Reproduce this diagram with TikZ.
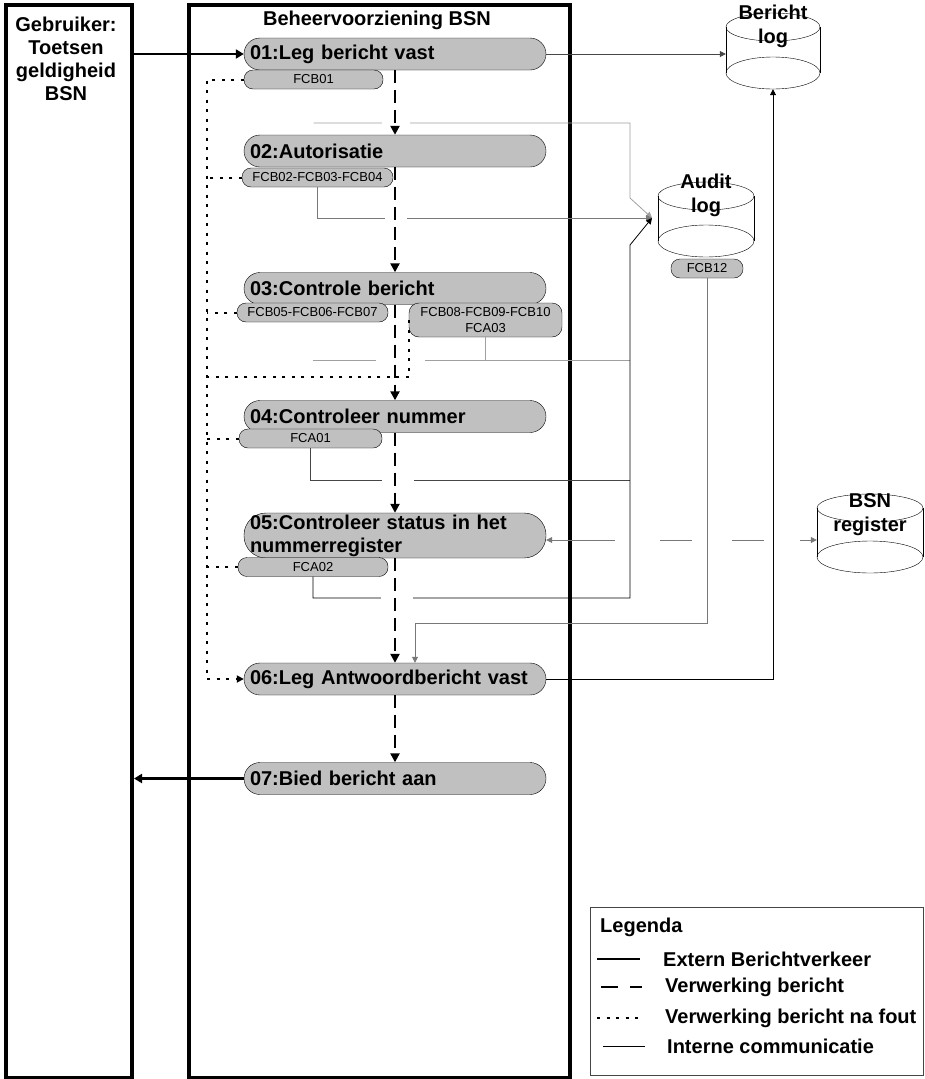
\documentclass[tikz,border=0pt]{standalone}
\usepackage{fontspec}
\setmainfont{Liberation Sans}
\usepackage{tikz}
\usetikzlibrary{arrows.meta,calc,positioning}
\definecolor{procgray}{RGB}{192,192,192}
\definecolor{lichtgrijs}{RGB}{160,160,160}
\definecolor{middengrijs}{RGB}{120,120,120}
\definecolor{donkergrijs}{RGB}{70,70,70}
\tikzset{
  lane/.style={draw,line width=4pt,anchor=north west,inner sep=0pt},
  titel/.style={font=\bfseries\fontsize{20}{23}\selectfont,inner sep=0pt},
  proc/.style={draw,fill=procgray,rounded corners=16pt,minimum height=32pt,text width=290pt,inner xsep=6pt,inner ysep=1pt,align=left,font=\bfseries\fontsize{20}{23}\selectfont},
  fc/.style={draw,fill=procgray,rounded corners=9pt,minimum height=19pt,inner sep=1pt,align=center,font=\fontsize{13}{16}\selectfont},
  dbtext/.style={font=\bfseries\fontsize{20}{24}\selectfont,align=center,inner sep=0pt},
  legtxt/.style={font=\bfseries\fontsize{20}{23}\selectfont,inner sep=0pt,anchor=west},
  ext/.style={line width=2.2pt,-{Triangle[length=8pt,width=9pt]}},
  flow/.style={line width=2.6pt,dash pattern=on 13pt off 7pt,-{Triangle[length=9pt,width=9pt]}},
  legflow/.style={line width=2.6pt,dash pattern=on 17pt off 12pt},
  fout/.style={line width=2pt,dash pattern=on 3pt off 6.5pt,-{Triangle[length=7pt,width=7pt]}},
  intern/.style={line width=0.8pt},
  register/.style={line width=0.8pt,middengrijs,dash pattern=on 63pt off 45pt on 32pt off 40pt on 32pt off 36pt on 24pt,{Triangle[length=6pt,width=6pt]}-{Triangle[length=6pt,width=6pt]}}
}
\begin{document}
\begin{tikzpicture}[x=1pt,y=-1pt,>={Triangle[length=6pt,width=6pt]}]
  \useasboundingbox (0,0) rectangle (925,1079);
  \node[lane,minimum width=126.5pt,minimum height=1073pt] (user) at (3.5,3) {};
  \node[lane,minimum width=381.5pt,minimum height=1073pt] (bvbsn) at (186.5,3) {};
  \node[titel,align=center] (usertxt) at (66,59) {Gebruiker:\\Toetsen\\geldigheid\\BSN};
  \node[titel] (bvtxt) at (377,20) {Beheervoorziening BSN};

  \node[proc] (p1) at (395,54) {01:Leg bericht vast};
  \node[proc] (p2) at (395,151) {02:Autorisatie};
  \node[proc] (p3) at (395,288.5) {03:Controle bericht};
  \node[proc] (p4) at (395,416.5) {04:Controleer nummer};
  \node[proc,rounded corners=22pt,minimum height=45pt] (p5) at (395,535.5) {05:Controleer status in het\\nummerregister};
  \node[proc] (p6) at (395,679) {06:Leg Antwoordbericht vast};
  \node[proc] (p7) at (395,778.5) {07:Bied bericht aan};

  \node[fc,minimum width=139pt] (fcb1) at (313.5,79.5) {FCB01};
  \node[fc,minimum width=151pt] (fcb2) at (317.5,177.5) {FCB02-FCB03-FCB04};
  \node[fc,minimum width=151pt] (fcb5) at (312.5,312.5) {FCB05-FCB06-FCB07};
  \node[fc,minimum width=153pt,minimum height=34pt,rounded corners=10pt] (fcb8) at (485.5,320) {FCB08-FCB09-FCB10\\FCA03};
  \node[fc,minimum width=143pt] (fca1) at (310.5,438.5) {FCA01};
  \node[fc,minimum width=150pt] (fca2) at (313,567) {FCA02};
  \node[fc,minimum width=72pt] (fcb12) at (707,268.5) {FCB12};

  \foreach \n/\x/\yt/\yb/\rx/\ty/\txt in {berlog/773/27/73/47/26/{Bericht\\log},audlog/706/196/241/48/195.5/{Audit\\log},bsnreg/870/508/557/53/514.5/{BSN\\register}} {
    \node[minimum width=2*\rx,minimum height=\yb-\yt+30,inner sep=0pt] (\n) at (\x,{(\yt+\yb+2)/2}) {};
    \draw (\x-\rx,\yt) -- (\x-\rx,\yb) (\x+\rx,\yt) -- (\x+\rx,\yb);
    \draw (\x,\yt) ellipse [x radius=\rx,y radius=14];
    \draw (\x,\yb) ellipse [x radius=\rx,y radius=16];
    \node[dbtext] (\n txt) at (\x,\ty) {\txt};
  }

  \coordinate (stam) at (630,0);
  \coordinate (auin) at (652,218);
  \coordinate (knik) at (415,623);
  \coordinate (foutx) at (207,0);

  \draw[intern,->,donkergrijs] (p1.east) -- (p1.east -| berlog.west);
  \draw[intern,->,lichtgrijs] (fcb1.south |- 0,123) -- (stam |- 0,123) -- (stam |- 0,198) -- (auin);
  \draw[intern,->,middengrijs] (fcb2.south) |- (auin);
  \draw[intern,lichtgrijs] (fcb5.south |- 0,360) -- (stam |- 0,360);
  \draw[intern,lichtgrijs] (fcb8.south) -- (fcb8.south |- 0,360);
  \draw[intern,donkergrijs] (fca1.south) |- (stam |- 0,480);
  \draw[intern,->] (fca2.south) |- (stam |- 0,598) -- (stam |- 0,245) -- (auin);
  \draw[intern,->,middengrijs] (fcb12.south) |- (knik) -- (knik |- p6.north);
  \draw[intern,->] (p6.east) -| (berlog.south);
  \draw[register] ([yshift=-4.5pt]p5.east) -- ([yshift=-4.5pt]p5.east -| bsnreg.west);
  \foreach \yy/\xa/\xb in {123/382/410,218/385/407,360/376/425,480/382/414,598/381/413}
    \fill[white] (\xa,\yy-2) rectangle (\xb,\yy+2);

  \draw[ext] (user.east |- p1.west) -- (p1.west);
  \draw[ext] (p7.west) -- (p7.west -| user.east);
  \foreach \a/\b in {p1/p2,p2/p3,p3/p4,p4/p5,p5/p6,p6/p7}
    \draw[flow] (\a.south) -- (\b.north);

  \draw[fout] (fcb1.west) -| (foutx |- p6.west) -- (p6.west);
  \foreach \f in {fcb2,fcb5,fca1,fca2}
    \draw[fout,-] (\f.west) -- (\f.west -| foutx);
  \draw[fout,-] (fcb8.west) |- (foutx |- 0,377);

  \node[draw=donkergrijs,line width=0.8pt,minimum width=333pt,minimum height=168pt,anchor=north west,inner sep=0pt] (legenda) at (590,907) {};
  \node[legtxt] (legkop) at (600,927) {Legenda};
  \foreach \yy/\xa/\xb/\xt/\st/\tx in {959/597/640/663/ext/Extern Berichtverkeer,987/601/642/665/legflow/Verwerking bericht,1018/597/640/665/fout/Verwerking bericht na fout,1046/603/645/667/intern/Interne communicatie} {
    \draw[\st,-] (\xa,\yy) -- (\xb,\yy);
    \node[legtxt] (leg\yy) at (\xt,\yy) {\tx};
  }
\end{tikzpicture}
\end{document}
